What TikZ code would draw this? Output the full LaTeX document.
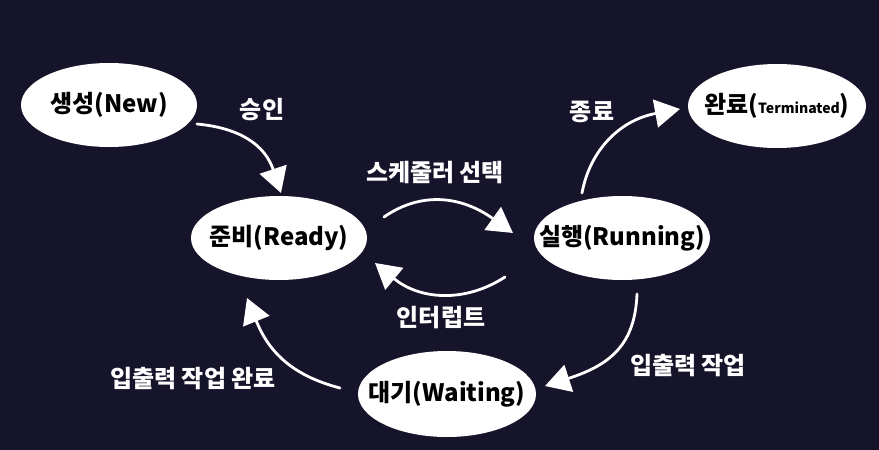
\documentclass[tikz,border=0pt]{standalone}
\usepackage{fontspec}
\setmainfont{Noto Sans CJK KR}
\usetikzlibrary{arrows.meta,calc,shapes.geometric}
\definecolor{bg}{RGB}{22,20,42}
\begin{document}
\begin{tikzpicture}[x=1pt,y=-1pt,
  state/.style={ellipse, fill=white, minimum width=176pt, minimum height=84pt,
    inner xsep=-30pt, inner ysep=-10pt,
    font=\fontsize{24}{28}\selectfont\bfseries, text=black},
  trans/.style={draw=white, line width=2.8pt, line cap=round,
    -{Triangle[length=25pt,width=28pt,fill=white]}},
  lbl/.style={text=white, inner sep=0pt, font=\fontsize{24}{28}\selectfont\bfseries}]
\fill[bg] (0,0) rectangle (879,450);
\useasboundingbox (0,0) rectangle (879,450);

\node[state] (new) at (109,105) {생성(New)};
\node[state] (ready) at (279,238) {준비(Ready)};
\node[state] (run) at (622,238) {실행(Running)};
\node[state, minimum width=178pt] (term) at (777,106) {완료({\fontsize{14}{16}\selectfont Terminated})};
\node[state, minimum width=178pt, minimum height=86pt] (wait) at (447,394) {대기(Waiting)};

\draw[trans] ($(new)+(88,19)$) .. controls ($(new)+(131,23)$) and ($(ready)+(-14,-93)$) .. ($(ready)+(2,-45)$);
\draw[trans] ($(ready)+(105,-21)$) .. controls ($(ready)+(141,-46)$) and ($(run)+(-162,-43)$) .. ($(run)+(-109,-5)$);
\draw[trans] ($(run)+(-117,39)$) .. controls ($(run)+(-157,65)$) and ($(ready)+(141,62)$) .. ($(ready)+(96,25)$);
\draw[trans] ($(run)+(-40,-45)$) .. controls ($(run)+(-32,-88)$) and ($(term)+(-157,14)$) .. ($(term)+(-97,3)$);
\draw[trans] ($(run)+(15,56)$) .. controls ($(run)+(13,107)$) and ($(wait)+(163,-29)$) .. ($(wait)+(98,-8)$);
\draw[trans] ($(wait)+(-107,-6)$) .. controls ($(wait)+(-157,-19)$) and ($(ready)+(-11,112)$) .. ($(ready)+(-32,60)$);

\node[lbl] (l1) at (262,110) {승인};
\node[lbl] (l2) at (435,173) {스케줄러 선택};
\node[lbl] (l3) at (441,318) {인터럽트};
\node[lbl] (l4) at (592,112) {종료};
\node[lbl] (l5) at (688,366) {입출력 작업};
\node[lbl] (l6) at (193,379) {입출력 작업 완료};
\end{tikzpicture}
\end{document}
